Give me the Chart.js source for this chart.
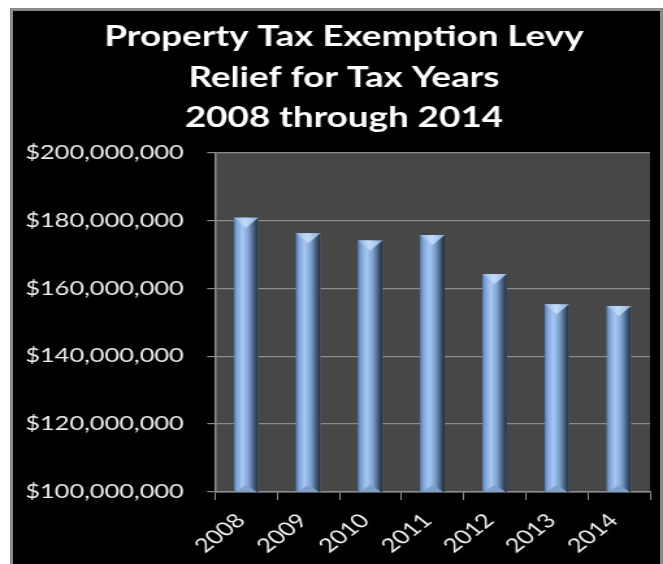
<!DOCTYPE html>
<html lang="en">
<head>
    <meta charset="UTF-8">
    <title>Property Tax Exemption Levy Relief</title>
    <script src="https://cdn.jsdelivr.net/npm/chart.js"></script>
    <style>
        html, body {
            margin: 0;
            padding: 0;
            background: #ffffff;
            width: 663px;
            height: 564px;
            overflow: hidden;
        }
        /* black panel with a thin grey frame */
        #panel {
            position: absolute;
            left: 10px;
            top: 8px;
            width: 647px;
            height: 556px;
            background: #000000;
            border-left: 3px solid #8a8a8a;
            border-top: 3px solid #8a8a8a;
            border-right: 3px solid #8a8a8a;
        }
        /* the chart is drawn narrow and widened, like the original sheet */
        #wrap {
            position: absolute;
            left: 0;
            top: 0;
            width: 510px;
            height: 564px;
            transform: scaleX(1.3);
            transform-origin: 0 0;
        }
    </style>
</head>
<body>
    <div id="panel"></div>
    <div id="wrap">
        <canvas id="levyChart"></canvas>
    </div>

    <script>
        // tax years and exemption levy relief (dollars)
        var years = ['2008', '2009', '2010', '2011', '2012', '2013', '2014'];
        var relief = [180800000, 176200000, 174100000, 175700000, 164200000, 155300000, 154800000];

        // y axis range
        var yMin = 100000000;
        var yMax = 200000000;
        var yStep = 20000000;

        var titleLines = ['Property Tax Exemption Levy', 'Relief for Tax Years', '2008 through 2014'];

        // dark grey plot area
        var plotBackground = {
            id: 'plotBackground',
            beforeDraw: function (chart) {
                var a = chart.chartArea;
                chart.ctx.save();
                chart.ctx.fillStyle = '#474747';
                chart.ctx.fillRect(a.left, a.top, a.right - a.left, a.bottom - a.top);
                chart.ctx.restore();
            }
        };

        // nudge the title a little to the right of the canvas centre
        var titleShift = {
            id: 'titleShift',
            afterLayout: function (chart) {
                chart.titleBlock.left += 14.6;
                chart.titleBlock.right += 14.6;
            }
        };

        // shade each bar like a cylinder
        var cylinders = {
            id: 'cylinders',
            afterDatasetsDraw: function (chart) {
                var ctx = chart.ctx;
                var area = chart.chartArea;
                ctx.save();
                ctx.beginPath();
                ctx.rect(area.left, area.top, area.right - area.left, area.bottom - area.top);
                ctx.clip();
                chart.getDatasetMeta(0).data.forEach(function (bar) {
                    var p = bar.getProps(['x', 'y', 'base', 'width'], true);
                    var l = p.x - p.width / 2;
                    var r = p.x + p.width / 2;
                    var base = Math.min(p.base, area.bottom);

                    var body = ctx.createLinearGradient(l, 0, r, 0);
                    body.addColorStop(0, '#5a7aa6');
                    body.addColorStop(0.12, '#80a4d6');
                    body.addColorStop(0.35, '#a5c8f6');
                    body.addColorStop(0.6, '#80a2d0');
                    body.addColorStop(0.85, '#3f5574');
                    body.addColorStop(1, '#222c3a');
                    ctx.fillStyle = body;
                    ctx.fillRect(l, p.y, p.width, base - p.y);

                    // top face
                    var top = ctx.createLinearGradient(l, 0, r, 0);
                    top.addColorStop(0, '#8fb0de');
                    top.addColorStop(0.45, '#c4dcfa');
                    top.addColorStop(1, '#90b0dc');
                    ctx.fillStyle = top;
                    ctx.beginPath();
                    ctx.moveTo(l, p.y);
                    ctx.lineTo(r, p.y);
                    ctx.lineTo(p.x, p.y + 10);
                    ctx.closePath();
                    ctx.fill();

                    // bottom face
                    ctx.fillStyle = '#7f9fcb';
                    ctx.beginPath();
                    ctx.moveTo(l + 1, base);
                    ctx.lineTo(r - 1, base);
                    ctx.lineTo(p.x, base - 7);
                    ctx.closePath();
                    ctx.fill();
                });
                ctx.restore();
            }
        };

        var ctx = document.getElementById('levyChart').getContext('2d');
        new Chart(ctx, {
            type: 'bar',
            data: {
                labels: years,
                datasets: [{
                    data: relief,
                    backgroundColor: '#7e9fcf',
                    categoryPercentage: 1,
                    barPercentage: 0.39
                }]
            },
            options: {
                responsive: true,
                maintainAspectRatio: false,
                animation: false,
                layout: { padding: { left: 0, right: 10, top: 0, bottom: 0 } },
                plugins: {
                    legend: { display: false },
                    tooltip: { enabled: false },
                    title: {
                        display: true,
                        text: titleLines,
                        color: '#ffffff',
                        font: { family: 'Lato', size: 28.3, weight: 'bold', lineHeight: 1.431 },
                        padding: { top: 17, bottom: 14 }
                    }
                },
                scales: {
                    x: {
                        grid: {
                            offset: true,
                            drawOnChartArea: false,
                            drawTicks: true,
                            tickLength: 8,
                            color: '#8c8c8c'
                        },
                        border: { color: '#8c8c8c', width: 1.5 },
                        ticks: {
                            color: '#f0f0f0',
                            font: { family: 'Lato', size: 19.5 },
                            maxRotation: 45,
                            minRotation: 45,
                            autoSkip: false,
                            labelOffset: -4,
                            padding: 9
                        },
                        afterFit: function (scale) { scale.height = 72; }
                    },
                    y: {
                        min: yMin,
                        max: yMax,
                        grid: {
                            color: '#8c8c8c',
                            lineWidth: 1.2,
                            tickLength: 6
                        },
                        border: { color: '#8c8c8c', width: 1.5 },
                        ticks: {
                            stepSize: yStep,
                            color: '#f0f0f0',
                            font: { family: 'Lato', size: 19.5 },
                            padding: 18,
                            callback: function (v) { return '$' + v.toLocaleString('en-US'); }
                        },
                        afterFit: function (scale) { scale.width = 165.4; }
                    }
                }
            },
            plugins: [plotBackground, titleShift, cylinders]
        });
    </script>
</body>
</html>
